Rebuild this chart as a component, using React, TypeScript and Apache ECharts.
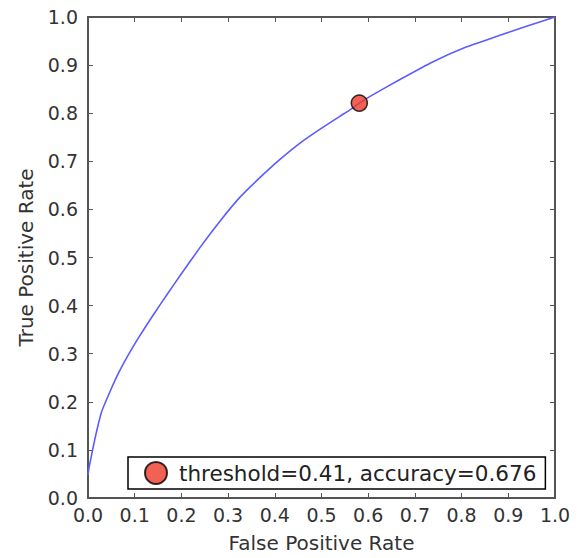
import React, { useEffect, useRef } from "react";
import * as echarts from "echarts";

const fpr = [0, 0.002, 0.015, 0.029, 0.047, 0.065, 0.086, 0.108, 0.14, 0.17, 0.197, 0.24, 0.283, 0.325, 0.368, 0.411, 0.454, 0.497, 0.54, 0.561, 0.581, 0.604, 0.668, 0.739, 0.811, 0.882, 0.939, 1.0];
const tpr = [0.048, 0.062, 0.124, 0.179, 0.221, 0.259, 0.297, 0.333, 0.381, 0.424, 0.462, 0.521, 0.576, 0.625, 0.666, 0.704, 0.738, 0.767, 0.794, 0.807, 0.821, 0.835, 0.87, 0.907, 0.938, 0.962, 0.981, 1.0];
const thresholdPoint = [0.581, 0.821];
const legendLabel = "threshold=0.41, accuracy=0.676";

const FONT = "DejaVu Sans";
const AXIS_COLOR = "#555";

export default function App() {
  const ref = useRef<HTMLDivElement>(null);
  useEffect(() => {
    if (!ref.current) return;
    const chart = echarts.init(ref.current, undefined, { renderer: "svg" });
    const baseAxis = {
      type: "value" as const,
      min: 0,
      max: 1,
      interval: 0.1,
      axisLine: { show: true, onZero: false, lineStyle: { color: AXIS_COLOR, width: 2 } },
      axisTick: { show: true, inside: true, length: 5, lineStyle: { color: AXIS_COLOR, width: 1 } },
      splitLine: { show: false },
    };
    const labelStyle = {
      show: true,
      fontFamily: FONT,
      fontSize: 19,
      color: "#333",
      formatter: (v: number) => v.toFixed(1),
    };
    chart.setOption({
      animation: false,
      backgroundColor: "#fff",
      grid: { left: 88, top: 17, width: 467, height: 483, containLabel: false },
      xAxis: [
        {
          ...baseAxis,
          position: "bottom",
          axisLabel: { ...labelStyle, margin: 7 },
          name: "False Positive Rate",
          nameLocation: "middle",
          nameGap: 35,
          nameTextStyle: { fontFamily: FONT, fontSize: 20, color: "#333" },
        },
        { ...baseAxis, position: "top", axisLabel: { show: false } },
      ],
      yAxis: [
        {
          ...baseAxis,
          position: "left",
          axisLabel: { ...labelStyle, margin: 10 },
          name: "True Positive Rate",
          nameLocation: "middle",
          nameGap: 52,
          nameTextStyle: { fontFamily: FONT, fontSize: 20, color: "#333" },
        },
        { ...baseAxis, position: "right", axisLabel: { show: false } },
      ],
      legend: {
        data: [{ name: legendLabel, icon: "circle" }],
        left: 128,
        top: 457,
        orient: "horizontal",
        itemWidth: 22,
        itemHeight: 22,
        itemGap: 0,
        padding: [4, 9, 4, 16],
        borderColor: "#000",
        borderWidth: 1.5,
        borderRadius: 0,
        backgroundColor: "#fff",
        textStyle: { fontFamily: FONT, fontSize: 21.5, lineHeight: 24, color: "#222", padding: [0, 0, 0, 7] },
      },
      series: [
        {
          type: "line",
          data: fpr.map((x, i) => [x, tpr[i]]),
          smooth: 0.15,
          showSymbol: false,
          lineStyle: { color: "#5c5cff", width: 1.6 },
          silent: true,
        },
        {
          type: "scatter",
          name: legendLabel,
          data: [thresholdPoint],
          symbol: "circle",
          symbolSize: 16,
          itemStyle: { color: "#ee3b2b", borderColor: "#000", borderWidth: 1.5 },
          z: 5,
        },
      ],
    });
    return () => chart.dispose();
  }, []);
  return (
    <div
      ref={ref}
      style={{ position: "absolute", left: 0, top: 0, width: 578, height: 558 }}
    />
  );
}
